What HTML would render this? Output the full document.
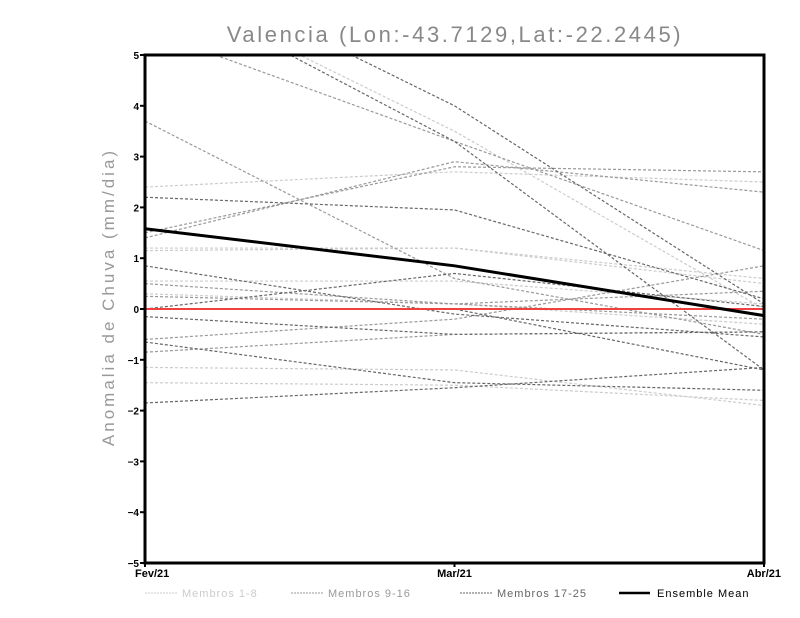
<!DOCTYPE html>
<html><head><meta charset="utf-8"><style>
body{margin:0;background:#fff;width:800px;height:618px;overflow:hidden}
svg{display:block;font-family:"Liberation Sans",sans-serif}
</style></head><body>
<svg id="c" width="800" height="618">
<defs><clipPath id="clip"><rect x="145" y="55" width="619" height="508"/></clipPath></defs>
<text x="455" y="42" text-anchor="middle" font-size="22" fill="#888" letter-spacing="2.6">Valencia (Lon:-43.7129,Lat:-22.2445)</text>
<text transform="translate(114,297) rotate(-90)" text-anchor="middle" font-size="17" fill="#999" letter-spacing="3">Anomalia de Chuva (mm/dia)</text>
<g id="lines" clip-path="url(#clip)"></g>
<g id="axes"></g>
</svg>
<script>
const months = ["Fev/21","Mar/21","Abr/21"];
const yTicks = [-5,-4,-3,-2,-1,0,1,2,3,4,5];
const group1 = [[2.4,2.7,2.5],[1.15,1.2,0.5],[0.55,0.55,0.1],[-1.15,-1.2,-1.9],[-1.45,-1.5,-1.8],[6.5,3.5,0.0],[0.3,0.1,-0.3],[1.2,1.2,0.6]];
const group2 = [[3.7,0.6,-0.5],[1.4,2.9,2.3],[1.5,2.8,2.7],[5.5,3.3,1.15],[-0.6,-0.2,0.85],[0.25,0.1,0.35],[-0.85,-0.5,-0.45],[0.5,0.1,-0.2]];
const group3 = [[2.2,1.95,0.2],[0.85,-0.1,-0.55],[0.0,0.7,0.05],[-0.15,-0.5,-0.45],[-0.65,-1.45,-1.6],[-1.85,-1.55,-1.15],[6.5,3.3,-1.2],[7.0,4.0,0.1],[0.0,0.0,-1.2]];
const ensembleMean = [1.58,0.85,-0.13];
const legendLabels = ["Membros 1-8","Membros 9-16","Membros 17-25","Ensemble Mean"];

const NS="http://www.w3.org/2000/svg";
const X0=145,X1=764,Y0=55,Y1=563;
const xs=i=>X0+(X1-X0)*i/(months.length-1);
const ys=v=>Y1-(v+5)/10*(Y1-Y0);
function mk(tag,attrs,parent){const e=document.createElementNS(NS,tag);for(const k in attrs)e.setAttribute(k,attrs[k]);parent.appendChild(e);return e;}
const L=document.getElementById('lines'),A=document.getElementById('axes');
function pts(a){return a.map((v,i)=>xs(i)+','+ys(v)).join(' ');}
[[group1,'#cccccc'],[group2,'#999999'],[group3,'#666666']].forEach(([g,col],gi)=>{
  g.forEach((s,si)=>{
    const p=mk('polyline',{points:pts(s),fill:'none',stroke:col,'stroke-width':1.2,'stroke-dasharray':'3,2'},L);
    
    
  });
});
const z=mk('line',{x1:X0,x2:X1,y1:ys(0),y2:ys(0),stroke:'#f04040','stroke-width':2},L);


const m=mk('polyline',{points:pts(ensembleMean),fill:'none',stroke:'#000','stroke-width':3},L);


const fr=mk('rect',{x:X0,y:Y0,width:X1-X0,height:Y1-Y0,fill:'none',stroke:'#000','stroke-width':3},A);


yTicks.forEach(t=>{
  const y=ys(t);
  mk('line',{x1:X0-5,x2:X0,y1:y,y2:y,stroke:'#000','stroke-width':2},A);
  const tx=mk('text',{x:X0-6,y:y+4,'text-anchor':'end','font-size':10,'font-weight':'bold'},A);
  tx.textContent=(t<0?'\u2212'+(-t):t);
  
  
});
months.forEach((mo,i)=>{
  const x=xs(i);
  mk('line',{x1:x,x2:x,y1:Y1,y2:Y1+4,stroke:'#000','stroke-width':2},A);
  const tx=mk('text',{x:i==0?X0-10:(i==2?X1+17:x),y:Y1+14,'text-anchor':i==0?'start':(i==2?'end':'middle'),'font-size':11,'font-weight':'bold'},A);
  tx.textContent=mo;
  
  
});
const lc=['#cccccc','#999999','#666666','#000'];
const lx=[145,291,460,619];
legendLabels.forEach((lab,i)=>{
  const gx=mk('g',{},A);
  
  
  mk('line',{x1:lx[i],x2:lx[i]+(i==3?31:32),y1:593,y2:593,stroke:lc[i],'stroke-width':i==3?2.5:1,'stroke-dasharray':i==3?'':'2,1'},gx);
  const t=mk('text',{x:lx[i]+(i==3?38:37),y:597,'font-size':11,fill:i==3?'#000':lc[i],'letter-spacing':'1'},gx);
  t.textContent=lab;
});
</script>
</body></html>
